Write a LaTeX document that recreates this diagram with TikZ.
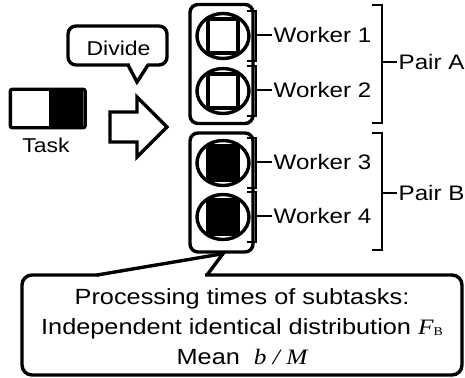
\documentclass[tikz,border=0pt]{standalone}
\usepackage{fontspec}
\setmainfont{Liberation Sans}[FakeStretch=1.15]
\newfontfamily\tms{Liberation Serif}[FakeStretch=1.15]
\usetikzlibrary{shapes.geometric, positioning}

\begin{document}
\begin{tikzpicture}[
    x=1pt, y=-1pt, line width=3.4pt,
    every node/.style={font=\fontsize{21}{25}\selectfont},
    halfbox/.style={inner sep=0pt, minimum width=34pt, minimum height=35pt},
    pairbox/.style={draw, rounded corners=8pt, minimum width=63pt, minimum height=119pt, inner sep=0pt},
    worker/.style={draw, ellipse, minimum width=52pt, minimum height=45pt, inner sep=0pt},
    brace/.style={line width=2.6pt},
    label/.style={anchor=west, inner sep=0pt}
]
    \useasboundingbox (0,0) rectangle (465,377);

    % Task
    \node[halfbox, fill=white] (half1) at (29,108.5) {};
    \node[halfbox, fill=black, right=0pt of half1] (half2) {};
    \draw[rounded corners=2pt] (half1.north west) rectangle (half2.south east);
    \node[font=\fontsize{20}{22}\selectfont] (task) at (46,145) {Task};

    % Divide arrow and callout
    \draw (110,112) -- (137,112) -- (137,97) -- (167,127) -- (137,157) -- (137,142) -- (110,142) -- cycle;
    \node[draw, rounded corners=8pt, minimum width=99pt, minimum height=39pt] (dividebox) at (117.5,45.5) {};
    \node[font=\fontsize{20}{24}\selectfont] (divide) at (118.5,48.5) {Divide};
    \coordinate (dtip) at (137,82);
    \fill[white] (129.5,62) rectangle (146.5,68);
    \draw (128,65) -- (dtip) -- (148,65);

    % Pairs
    \node[pairbox] (pairA) at (221.5,64) {};
    \node[pairbox] (pairB) at (221.5,192.5) {};

    % Workers
    \foreach \i/\y/\c in {1/36/white, 2/91/white, 3/163/black, 4/217/black} {
        \begin{scope}
            \clip (223,\y) ellipse [x radius=26pt, y radius=22.5pt];
            \draw[fill=\c] (208,\y-17) rectangle (238,\y+17);
        \end{scope}
        \node[worker] (w\i) at (223,\y) {};
        \node[label] (lab\i) at (272,\y-1) {Worker \i};
        \draw[brace] (247,\y-25) -- (256,\y-25) -- (256,\y+25) -- (247,\y+25);
        \draw[brace] (256,\y-1) -- (lab\i.west);
    }

    % Pair brackets
    \node[label] (labA) at (397,62) {Pair A};
    \node[label] (labB) at (397,193) {Pair B};
    \draw[brace] (372,5) -- (382,5) -- (382,123) -- (372,123);
    \draw[brace] (382,62) -- (labA.west);
    \draw[brace] (372,133) -- (382,133) -- (382,250) -- (372,250);
    \draw[brace] (382,193) -- (labB.west);

    % Processing times
    \node[draw, rounded corners=10pt, minimum width=440pt, minimum height=100pt] (info) at (242,325) {};
    \node[align=center, font=\fontsize{22}{30}\selectfont] (infotext) at (242,327)
        {Processing times of subtasks:\\
         Independent identical distribution {\tms\itshape F}\raisebox{-1pt}{\tms\fontsize{12}{12}\selectfont B}\\
         Mean\ \ {\tms\itshape b / M}};
    \coordinate (itip) at (pairB.south);
    \fill[white] (99,272) rectangle (205,278);
    \draw (97,275) -- ([xshift=1.5pt]itip) -- (207,275);

\end{tikzpicture}
\end{document}
